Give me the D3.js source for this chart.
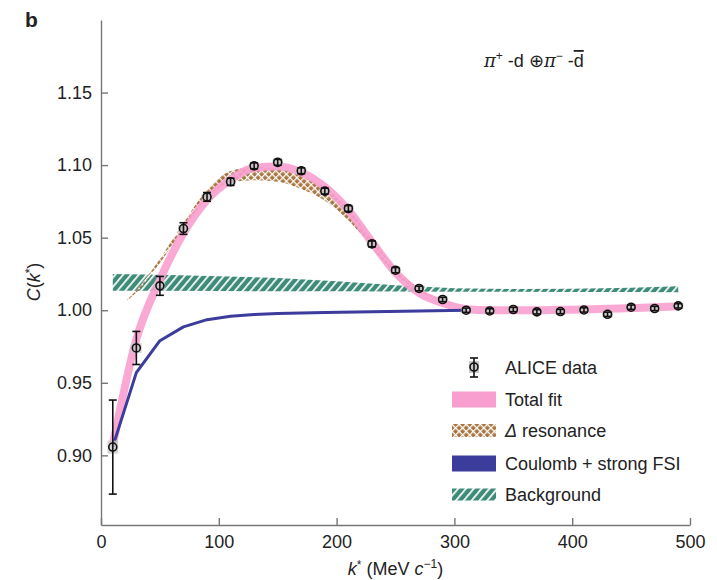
<!DOCTYPE html>
<html>
<head>
<meta charset="utf-8">
<script src="https://cdn.jsdelivr.net/npm/d3@7"></script>
<style>
  body { margin: 0; background: #fff; }
  svg text { font-family: "Liberation Sans", Arial, Helvetica, sans-serif; fill: #222; }
</style>
</head>
<body>
<div id="chart"></div>
<script>
const width = 717;
const height = 580;

// ALICE data points
const kBins = [10, 30, 50, 70, 90, 110, 130, 150, 170, 190, 210, 230, 250, 270, 290, 310, 330, 350, 370, 390, 410, 430, 450, 470, 490];
const cData = [0.9057, 0.974, 1.0168, 1.0563, 1.0781, 1.0885, 1.0995, 1.1019, 1.0961, 1.0821, 1.0701, 1.0457, 1.0276, 1.0150, 1.0074, 1.0000, 0.9995, 1.0005, 0.9989, 0.9991, 1.0002, 0.9972, 1.0021, 1.0012, 1.0030];
const statErr = [0.0324, 0.0114, 0.0065, 0.004, 0.003, 0.0025, 0.002, 0.002, 0.002, 0.002, 0.002, 0.002, 0.0018, 0.0016, 0.0015, 0.0015, 0.0015, 0.0015, 0.0015, 0.0015, 0.0015, 0.0015, 0.0015, 0.0015, 0.0015];
const sysErr = [0.0045, 0.0035, 0.003, 0.0025, 0.0022, 0.002, 0.002, 0.002, 0.002, 0.002, 0.002, 0.002, 0.002, 0.002, 0.002, 0.002, 0.002, 0.002, 0.002, 0.002, 0.002, 0.002, 0.002, 0.002, 0.002];

// total fit (evaluated at bin centres)
const fitTotal = [0.907, 0.980, 1.021, 1.053, 1.076, 1.090, 1.098, 1.099, 1.095, 1.085, 1.069, 1.047, 1.026, 1.012, 1.005, 1.0007, 1.0000, 1.0000, 1.0000, 1.0003, 1.0005, 1.0010, 1.0015, 1.0020, 1.0027];

// Coulomb + strong FSI
const coulombK = [10, 30, 50, 70, 90, 110, 130, 150, 190, 230, 270, 310];
const coulombC = [0.906, 0.957, 0.979, 0.9885, 0.9935, 0.9958, 0.997, 0.9977, 0.9985, 0.999, 0.9995, 1.0];

// Delta resonance band
const deltaK = [22, 30, 50, 70, 90, 110, 130, 150, 170, 190, 210, 230, 250, 270, 285];
const deltaLo = [1.0067, 1.0122, 1.0325, 1.0558, 1.077, 1.088, 1.0895, 1.0885, 1.0835, 1.0755, 1.062, 1.043, 1.025, 1.013, 1.0077];
const deltaHi = [1.0073, 1.0138, 1.0355, 1.0602, 1.083, 1.096, 1.0985, 1.0975, 1.0925, 1.0845, 1.070, 1.049, 1.029, 1.015, 1.0083];

// Background band
const bkgK = [10, 50, 100, 150, 200, 250, 300, 350, 400, 450, 490];
const bkgLo = [1.0135, 1.0134, 1.0132, 1.0131, 1.0130, 1.0129, 1.0128, 1.0127, 1.0126, 1.0125, 1.0124];
const bkgHi = [1.0250, 1.0245, 1.0235, 1.0222, 1.0200, 1.0172, 1.0152, 1.0146, 1.0148, 1.0155, 1.0166];

const xTicks = [0, 100, 200, 300, 400, 500];
const yTicks = [0.90, 0.95, 1.00, 1.05, 1.10, 1.15];

const legendLabels = ["ALICE data", "Total fit", "resonance", "Coulomb + strong FSI", "Background"];

const pink = "#f99fcf";
const blue = "#3c3c9c";
const green = "#3f8b79";
const brown = "#a8743f";

const svg = d3.select("#chart")
  .append("svg")
  .attr("width", width)
  .attr("height", height);

const defs = svg.append("defs");

const hatch = defs.append("pattern")
  .attr("id", "bkgHatch")
  .attr("patternUnits", "userSpaceOnUse")
  .attr("width", 6)
  .attr("height", 6)
  .attr("patternTransform", "rotate(40)");
hatch.append("rect").attr("width", 6).attr("height", 6).attr("fill", green);
hatch.append("rect").attr("width", 1.7).attr("height", 6).attr("fill", "#fff");

const cross = defs.append("pattern")
  .attr("id", "deltaHatch")
  .attr("patternUnits", "userSpaceOnUse")
  .attr("width", 5)
  .attr("height", 5)
  .attr("patternTransform", "rotate(45)");
cross.append("rect").attr("width", 5).attr("height", 5).attr("fill", brown);
cross.append("rect").attr("width", 1.3).attr("height", 5).attr("fill", "#fff");
cross.append("rect").attr("width", 5).attr("height", 1.3).attr("fill", "#fff");

const x = d3.scaleLinear().domain([0, 500]).range([101, 690]);
const y = d3.scaleLinear().domain([0.852, 1.2]).range([525, 20]);

// axes
const xAxis = svg.append("g")
  .attr("transform", `translate(0, ${y.range()[0]})`)
  .call(d3.axisBottom(x).tickValues(xTicks).tickSize(-7).tickSizeOuter(0).tickPadding(10));

const yAxis = svg.append("g")
  .attr("transform", `translate(${x.range()[0]}, 0)`)
  .call(d3.axisLeft(y).tickValues(yTicks).tickSize(-7).tickSizeOuter(0).tickPadding(9).tickFormat(d3.format(".2f")));

[xAxis, yAxis].forEach(a => {
  a.select(".domain").attr("stroke", "#777").attr("stroke-width", 1.4);
  a.selectAll(".tick line").attr("stroke", "#777").attr("stroke-width", 1.4);
  a.selectAll(".tick text")
    .style("font-size", "18px")
    .style("font-family", "'Liberation Sans', Arial, sans-serif")
    .attr("fill", "#222");
});

// background band
const bkgData = bkgK.map((k, i) => ({ k, lo: bkgLo[i], hi: bkgHi[i] }));
svg.append("path")
  .datum(bkgData)
  .attr("fill", "url(#bkgHatch)")
  .attr("d", d3.area().x(d => x(d.k)).y0(d => y(d.lo)).y1(d => y(d.hi)));

// delta band
const deltaData = deltaK.map((k, i) => ({ k, lo: deltaLo[i], hi: deltaHi[i] }));
svg.append("path")
  .datum(deltaData)
  .attr("fill", "url(#deltaHatch)")
  .attr("d", d3.area().x(d => x(d.k)).y0(d => y(d.lo)).y1(d => y(d.hi)).curve(d3.curveMonotoneX));

// total fit
svg.append("path")
  .datum(kBins.map((k, i) => ({ k, c: fitTotal[i] })))
  .attr("fill", "none")
  .attr("stroke", pink)
  .attr("stroke-opacity", 0.9)
  .attr("stroke-width", 8)
  .attr("stroke-linejoin", "round")
  .attr("d", d3.line().x(d => x(d.k)).y(d => y(d.c)).curve(d3.curveMonotoneX));

// Coulomb + strong FSI
svg.append("path")
  .datum(coulombK.map((k, i) => ({ k, c: coulombC[i] })))
  .attr("fill", "none")
  .attr("stroke", blue)
  .attr("stroke-width", 3)
  .attr("stroke-linejoin", "round")
  .attr("d", d3.line().x(d => x(d.k)).y(d => y(d.c)));

// data points
const pts = kBins.map((k, i) => ({ k, c: cData[i], stat: statErr[i], sys: sysErr[i] }));
const pg = svg.append("g");

pg.selectAll("rect.sys")
  .data(pts)
  .enter()
  .append("rect")
  .attr("class", "sys")
  .attr("x", d => x(d.k - 4.5))
  .attr("width", d => x(d.k + 4.5) - x(d.k - 4.5))
  .attr("y", d => y(d.c + d.sys))
  .attr("height", d => y(d.c - d.sys) - y(d.c + d.sys))
  .attr("fill", "#c8c8c8")
  .attr("opacity", 0.8);

const bars = pg.selectAll("g.bar")
  .data(pts)
  .enter()
  .append("g")
  .attr("class", "bar")
  .attr("stroke", "#111")
  .attr("stroke-width", 1.6);

bars.append("line")
  .attr("x1", d => x(d.k)).attr("x2", d => x(d.k))
  .attr("y1", d => y(d.c + d.stat)).attr("y2", d => y(d.c - d.stat));
bars.append("line")
  .attr("x1", d => x(d.k) - 4).attr("x2", d => x(d.k) + 4)
  .attr("y1", d => y(d.c + d.stat)).attr("y2", d => y(d.c + d.stat));
bars.append("line")
  .attr("x1", d => x(d.k) - 4).attr("x2", d => x(d.k) + 4)
  .attr("y1", d => y(d.c - d.stat)).attr("y2", d => y(d.c - d.stat));
bars.append("circle")
  .attr("cx", d => x(d.k))
  .attr("cy", d => y(d.c))
  .attr("r", 4)
  .attr("fill", "none");

// labels
svg.append("text")
  .attr("x", 25)
  .attr("y", 27)
  .style("font-size", "21px")
  .style("font-weight", "bold")
  .text("b");

const ann = svg.append("text")
  .attr("x", 484)
  .attr("y", 67)
  .style("font-size", "18px");
ann.append("tspan").style("font-style", "italic").style("font-family", "'DejaVu Serif', serif").text("π");
ann.append("tspan").attr("dy", -7).style("font-size", "12px").text("+");
ann.append("tspan").attr("dy", 7).text(" -d ");
ann.append("tspan").text("⊕");
ann.append("tspan").style("font-style", "italic").style("font-family", "'DejaVu Serif', serif").text("π");
ann.append("tspan").attr("dy", -7).style("font-size", "12px").text("−");
ann.append("tspan").attr("dy", 7).text(" -");
ann.append("tspan").style("text-decoration", "overline").text("d");

const xl = svg.append("text")
  .attr("x", (x.range()[0] + x.range()[1]) / 2)
  .attr("y", 575)
  .attr("text-anchor", "middle")
  .style("font-size", "18px");
xl.append("tspan").style("font-style", "italic").text("k");
xl.append("tspan").attr("dy", -6).style("font-size", "12px").text("*");
xl.append("tspan").attr("dy", 6).text(" (MeV ");
xl.append("tspan").style("font-style", "italic").text("c");
xl.append("tspan").attr("dy", -7).style("font-size", "12px").text("−1");
xl.append("tspan").attr("dy", 7).text(")");

const yl = svg.append("text")
  .attr("transform", "translate(40, 282) rotate(-90)")
  .attr("text-anchor", "middle")
  .style("font-size", "18px");
yl.append("tspan").style("font-style", "italic").text("C");
yl.append("tspan").text("(");
yl.append("tspan").style("font-style", "italic").text("k");
yl.append("tspan").attr("dy", -6).style("font-size", "12px").text("*");
yl.append("tspan").attr("dy", 6).text(")");

// legend
const legend = svg.append("g").attr("transform", "translate(452, 367)");
const rowY = [0, 32.5, 63.5, 96.5, 127.5];

legendLabels.forEach((label, i) => {
  const g = legend.append("g").attr("transform", `translate(0, ${rowY[i]})`);
  if (i === 0) {
    g.append("rect").attr("x", 17).attr("y", -6).attr("width", 10).attr("height", 12).attr("fill", "#c8c8c8");
    g.append("line").attr("x1", 22).attr("x2", 22).attr("y1", -9).attr("y2", 10).attr("stroke", "#111").attr("stroke-width", 1.6);
    g.append("line").attr("x1", 18).attr("x2", 26).attr("y1", -9).attr("y2", -9).attr("stroke", "#111").attr("stroke-width", 1.6);
    g.append("line").attr("x1", 18).attr("x2", 26).attr("y1", 10).attr("y2", 10).attr("stroke", "#111").attr("stroke-width", 1.6);
    g.append("circle").attr("cx", 22).attr("cy", 0).attr("r", 4).attr("fill", "none").attr("stroke", "#111").attr("stroke-width", 1.6);
  } else if (i === 1) {
    g.append("rect").attr("y", -8).attr("width", 44).attr("height", 16).attr("fill", pink);
  } else if (i === 2) {
    g.append("rect").attr("y", -6.5).attr("width", 44).attr("height", 13).attr("fill", "url(#deltaHatch)");
  } else if (i === 3) {
    g.append("rect").attr("y", -8).attr("width", 44).attr("height", 16).attr("fill", blue);
  } else {
    g.append("rect").attr("y", -6).attr("width", 44).attr("height", 12).attr("fill", "url(#bkgHatch)");
  }
  const t = g.append("text").attr("x", 53).attr("y", 6.5).style("font-size", "18px");
  if (i === 2) {
    t.append("tspan").style("font-style", "italic").text("Δ");
    t.append("tspan").text(" " + label);
  } else {
    t.text(label);
  }
});
</script>
</body>
</html>
